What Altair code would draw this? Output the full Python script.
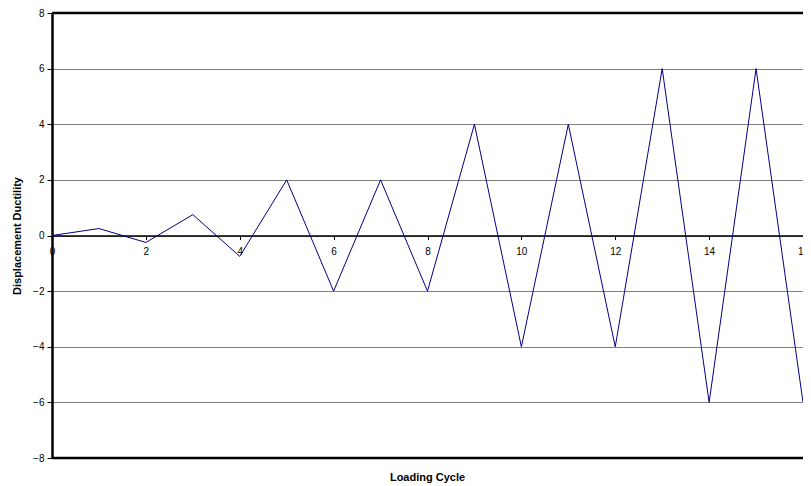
import altair as alt
import pandas as pd

cycles = list(range(0, 17))
ductility = [0, 0.25, -0.25, 0.75, -0.75, 2, -2, 2, -2, 4, -4, 4, -4, 6, -6, 6, -6]
x_ticks = [0, 2, 4, 6, 8, 10, 12, 14, 16]
y_ticks = [-8, -6, -4, -2, 0, 2, 4, 6, 8]

df = pd.DataFrame({"cycle": cycles, "ductility": ductility})
FONT = "Liberation Sans"

W, H = 751, 445

x_scale = alt.Scale(domain=[0, 16], nice=False, zero=False)
y_scale = alt.Scale(domain=[-8, 8], nice=False)

line = alt.Chart(df).mark_line(color="#000080", strokeWidth=1).encode(
    x=alt.X("cycle:Q", scale=x_scale,
            axis=alt.Axis(values=x_ticks, title=None, grid=False, offset=-H / 2,
                          domainColor="black", domainWidth=1.5, tickColor="black",
                          tickSize=4, labelPadding=7, labelFontSize=10,
                          labelFont=FONT, labelColor="black", labelFlush=False)),
    y=alt.Y("ductility:Q", scale=y_scale,
            axis=alt.Axis(values=y_ticks, title="Displacement Ductility",
                          grid=True, gridColor="#808080", gridWidth=1,
                          domainColor="black", domainWidth=2.5, tickColor="black",
                          tickSize=5, labelPadding=3, labelFontSize=10,
                          labelFont=FONT, labelColor="black",
                          titleFont=FONT, titleFontSize=11, titleFontWeight="bold",
                          titleColor="black", titleX=-35, titleBaseline="middle")),
)

border_df = pd.DataFrame({"yv": [-8, 8]})
borders = alt.Chart(border_df).mark_rule(color="black", strokeWidth=2.5).encode(
    y=alt.Y("yv:Q", scale=y_scale),
    x=alt.value(0), x2=alt.value(W),
)

chart = alt.layer(line, borders).properties(
    width=W, height=H,
    autosize=alt.AutoSizeParams(type="none"),
    padding={"left": 44, "top": 5, "right": 0, "bottom": 28},
    title=alt.TitleParams("Loading Cycle", orient="bottom", font=FONT, fontSize=11,
                          fontWeight="bold", color="black", offset=9),
).configure_view(stroke="#c0c0c0", strokeWidth=1).configure(background="white")

chart.save("out.html", embed_options={"renderer": "svg", "actions": False})
